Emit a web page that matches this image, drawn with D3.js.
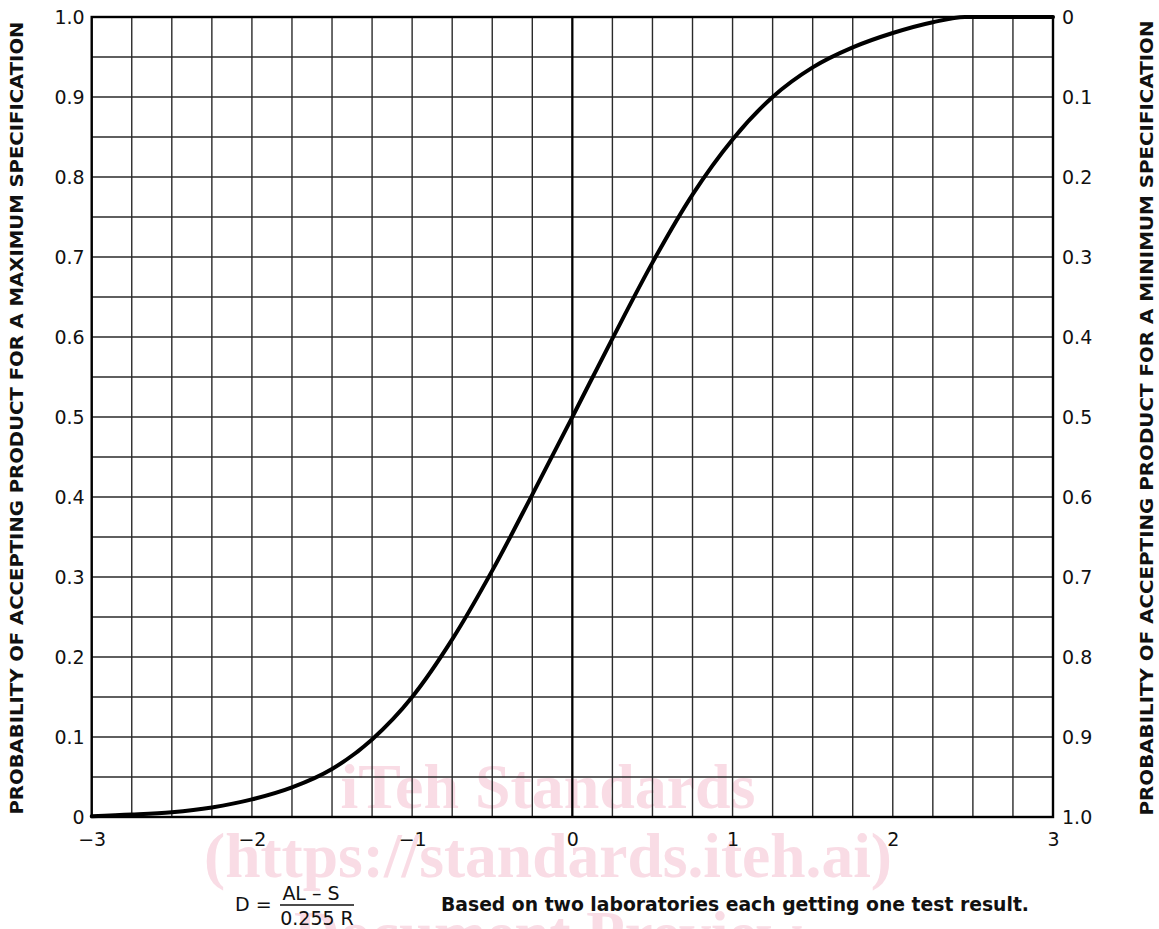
<!DOCTYPE html>
<html><head><meta charset="utf-8">
<script src="https://cdn.jsdelivr.net/npm/d3@7"></script>
<style>body{margin:0;background:#fff}svg{display:block}</style>
</head><body><svg id="c" width="1159" height="929"></svg>
<script>
// ---- data ----
const xTickValues = [-3, -2, -1, 0, 1, 2, 3];
const xTickLabels = ["\u22123", "\u22122", "\u22121", "0", "1", "2", "3"];
const leftTickValues = [0, 0.1, 0.2, 0.3, 0.4, 0.5, 0.6, 0.7, 0.8, 0.9, 1.0];
const leftTickLabels = ["0", "0.1", "0.2", "0.3", "0.4", "0.5", "0.6", "0.7", "0.8", "0.9", "1.0"];
const rightTickLabels = ["0", "0.1", "0.2", "0.3", "0.4", "0.5", "0.6", "0.7", "0.8", "0.9", "1.0"]; // top to bottom
const curveD = [-3, -2.75, -2.5, -2.25, -2, -1.75, -1.5, -1.25, -1, -0.75, -0.5, -0.25, 0, 0.25, 0.5, 0.75, 1, 1.25, 1.5, 1.75, 2, 2.25, 2.45, 2.7, 3];
const curveP = [0.001, 0.003, 0.006, 0.012, 0.022, 0.037, 0.060, 0.097, 0.150, 0.222, 0.308, 0.403, 0.5, 0.598, 0.693, 0.778, 0.847, 0.900, 0.937, 0.962, 0.980, 0.9935, 1.0, 1.0, 1.0];
const leftTitle = "PROBABILITY OF ACCEPTING PRODUCT FOR A MAXIMUM SPECIFICATION";
const rightTitle = "PROBABILITY OF ACCEPTING PRODUCT FOR A MINIMUM SPECIFICATION";
const noteText = "Based on two laboratories each getting one test result.";
const formulaLeft = "D =";
const formulaNum = "AL \u2013 S";
const formulaDen = "0.255 R";
const watermarkLines = ["iTeh Standards", "(https://standards.iteh.ai)", "Document Preview"];

// ---- layout ----
const L = 91.7, R = 1053, T = 17, B = 817;
const svg = d3.select("#c");
const FONT = "'DejaVu Sans', Verdana, sans-serif";
const FONTC = "'DejaVu Sans Condensed', 'DejaVu Sans', sans-serif";

const x = d3.scaleLinear().domain([-3, 3]).range([L, R]);
const y = d3.scaleLinear().domain([0, 1]).range([B, T]);
const yR = d3.scaleLinear().domain([0, 1]).range([T, B]);

// watermark (behind)
const wm = svg.append("g").attr("fill", "#f9dce5")
  .attr("font-family", "'Liberation Serif', 'Times New Roman', serif")
  .attr("font-weight", "bold").attr("font-size", 63).attr("text-anchor", "middle");
const wmY = [808, 877, 955];
const wmW = [415, 688, 0];
watermarkLines.forEach((t, i) => {
  const el = wm.append("text").attr("x", 548).attr("y", wmY[i]).text(t);
  if (wmW[i]) el.attr("textLength", wmW[i]).attr("lengthAdjust", "spacingAndGlyphs");
});

// grid
const vLines = d3.range(-3, 3.0001, 0.25);
const hLines = d3.range(0, 1.0001, 0.05);
const grid = svg.append("g").attr("stroke", "#2a2a2a").attr("stroke-width", 1.4);
grid.selectAll("line.v").data(vLines).join("line").attr("class", "v")
  .attr("x1", d => x(d)).attr("x2", d => x(d)).attr("y1", T).attr("y2", B);
grid.selectAll("line.h").data(hLines).join("line").attr("class", "h")
  .attr("x1", L).attr("x2", R).attr("y1", d => y(d)).attr("y2", d => y(d));

// zero line
svg.append("line").attr("x1", x(0)).attr("x2", x(0)).attr("y1", T).attr("y2", B)
  .attr("stroke", "#000").attr("stroke-width", 2.2);

// border
svg.append("rect").attr("x", L).attr("y", T).attr("width", R - L).attr("height", B - T)
  .attr("fill", "none").attr("stroke", "#000").attr("stroke-width", 2.4);

// curve
const pts = curveD.map((d, i) => [d, curveP[i]]);
svg.append("path").datum(pts)
  .attr("fill", "none").attr("stroke", "#000").attr("stroke-width", 4).attr("stroke-linecap", "round")
  .attr("d", d3.line().x(d => x(d[0])).y(d => y(d[1])).curve(d3.curveMonotoneX));

// axes
function styleAxis(g) {
  g.select(".domain").remove();
  g.selectAll("line").remove();
  g.attr("font-family", FONT).attr("font-size", 19);
  g.selectAll("text").attr("fill", "#111");
}
svg.append("g").attr("transform", `translate(${L},0)`)
  .call(d3.axisLeft(y).tickValues(leftTickValues).tickFormat((d, i) => leftTickLabels[i]).tickSize(0).tickPadding(7))
  .call(styleAxis);
svg.append("g").attr("transform", `translate(${R},0)`)
  .call(d3.axisRight(yR).tickValues(leftTickValues).tickFormat((d, i) => rightTickLabels[i]).tickSize(0).tickPadding(9))
  .call(styleAxis);
svg.append("g").attr("transform", `translate(0,${B})`)
  .call(d3.axisBottom(x).tickValues(xTickValues).tickFormat((d, i) => xTickLabels[i]).tickSize(0).tickPadding(16))
  .call(styleAxis);

// axis titles
svg.append("text").attr("transform", `translate(23,418) rotate(-90)`)
  .attr("text-anchor", "middle").attr("font-family", FONT).attr("font-weight", "bold")
  .attr("font-size", 18.5).attr("fill", "#111")
  .attr("textLength", 793).attr("lengthAdjust", "spacingAndGlyphs").text(leftTitle);
svg.append("text").attr("transform", `translate(1153,418) rotate(-90)`)
  .attr("text-anchor", "middle").attr("font-family", FONT).attr("font-weight", "bold")
  .attr("font-size", 18.5).attr("fill", "#111")
  .attr("textLength", 795).attr("lengthAdjust", "spacingAndGlyphs").text(rightTitle);

// formula
const f = svg.append("g").attr("font-family", FONT).attr("font-size", 19).attr("fill", "#111");
f.append("text").attr("x", 235).attr("y", 911).text(formulaLeft);
f.append("text").attr("x", 311).attr("y", 900).attr("text-anchor", "middle").text(formulaNum);
f.append("line").attr("x1", 280).attr("x2", 354).attr("y1", 905).attr("y2", 905)
  .attr("stroke", "#111").attr("stroke-width", 1.4);
f.append("text").attr("x", 317).attr("y", 925).attr("text-anchor", "middle").text(formulaDen);

// note
svg.append("text").attr("x", 441).attr("y", 911).attr("font-family", FONTC).attr("font-weight", "bold")
  .attr("font-size", 20).attr("fill", "#111")
  .attr("textLength", 588).attr("lengthAdjust", "spacingAndGlyphs").text(noteText);
</script></body></html>
